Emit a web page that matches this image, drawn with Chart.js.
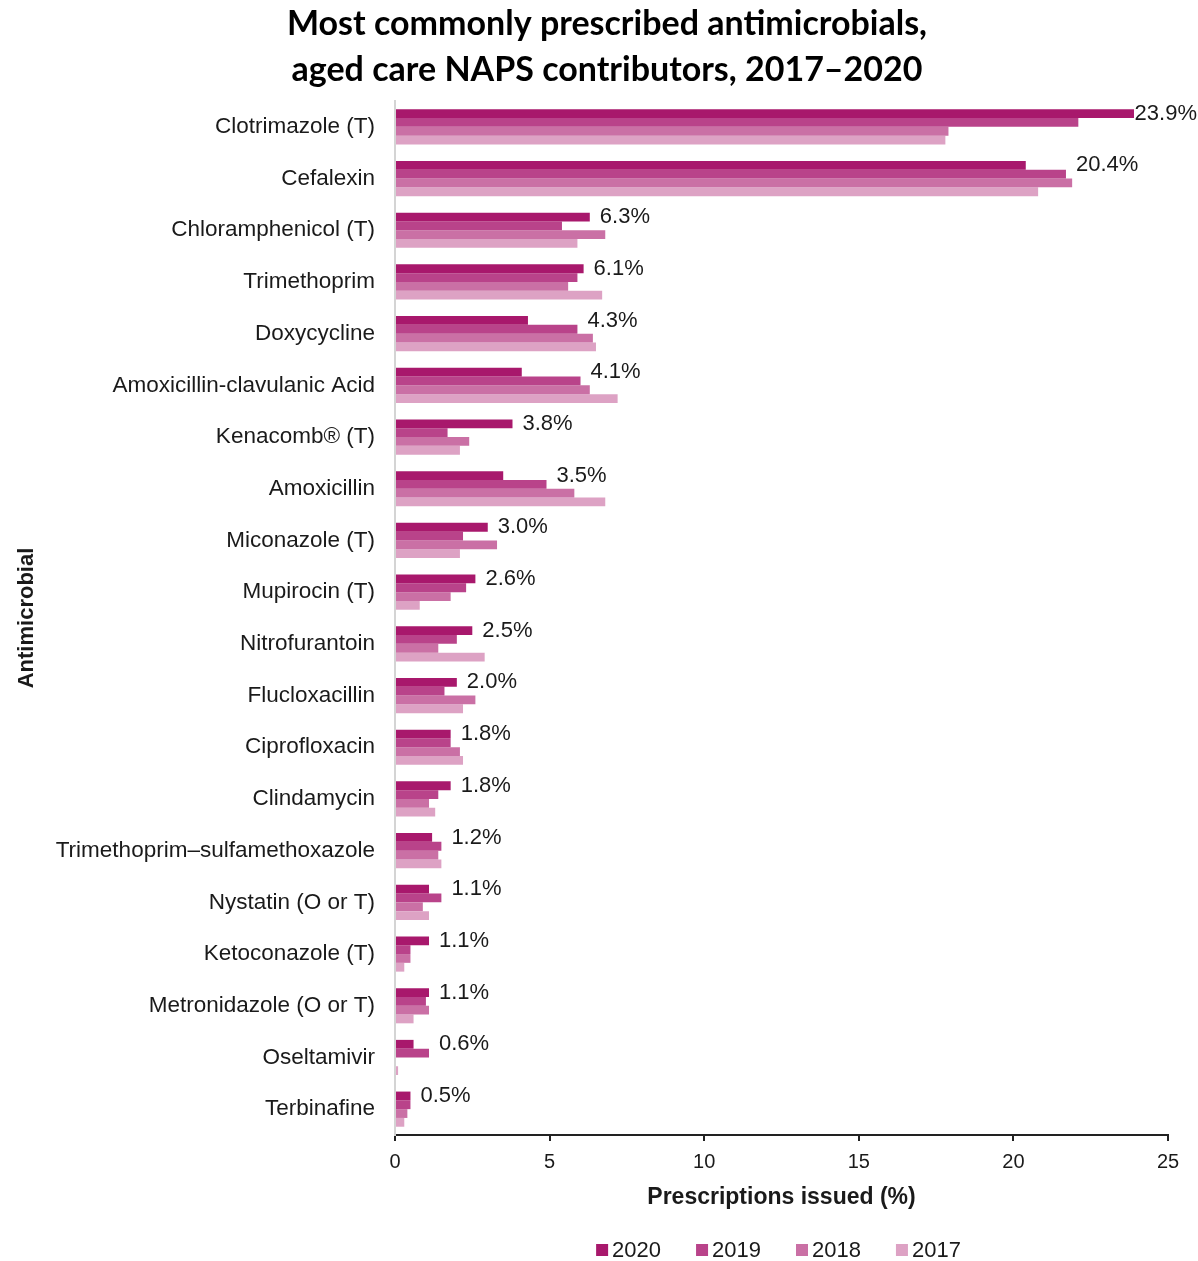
<!DOCTYPE html>
<html>
<head>
<meta charset="utf-8">
<script src="https://cdn.jsdelivr.net/npm/chart.js@4.4.1/dist/chart.umd.min.js"></script>
<style>
  html, body { margin: 0; padding: 0; background: #fff; }
  #wrap { width: 1198px; height: 1261px; position: relative; }
</style>
</head>
<body>
<div id="wrap"><canvas id="chart"></canvas></div>
<script>
const antimicrobials = [
  'Clotrimazole (T)', 'Cefalexin', 'Chloramphenicol (T)', 'Trimethoprim', 'Doxycycline',
  'Amoxicillin-clavulanic Acid', 'Kenacomb® (T)', 'Amoxicillin', 'Miconazole (T)', 'Mupirocin (T)',
  'Nitrofurantoin', 'Flucloxacillin', 'Ciprofloxacin', 'Clindamycin', 'Trimethoprim–sulfamethoxazole',
  'Nystatin (O or T)', 'Ketoconazole (T)', 'Metronidazole (O or T)', 'Oseltamivir', 'Terbinafine',
];
const years = ['2020', '2019', '2018', '2017'];
const values2020 = [23.9, 20.4, 6.3, 6.1, 4.3, 4.1, 3.8, 3.5, 3.0, 2.6, 2.5, 2.0, 1.8, 1.8, 1.2, 1.1, 1.1, 1.1, 0.6, 0.5];
const values2019 = [22.1, 21.7, 5.4, 5.9, 5.9, 6.0, 1.7, 4.9, 2.2, 2.3, 2.0, 1.6, 1.8, 1.4, 1.5, 1.5, 0.5, 1.0, 1.1, 0.5];
const values2018 = [17.9, 21.9, 6.8, 5.6, 6.4, 6.3, 2.4, 5.8, 3.3, 1.8, 1.4, 2.6, 2.1, 1.1, 1.4, 0.9, 0.5, 1.1, 0.0, 0.4];
const values2017 = [17.8, 20.8, 5.9, 6.7, 6.5, 7.2, 2.1, 6.8, 2.1, 0.8, 2.9, 2.2, 2.2, 1.3, 1.5, 1.1, 0.3, 0.6, 0.1, 0.3];
const xTicks = [0, 5, 10, 15, 20, 25];
const titleLines = ['Most commonly prescribed antimicrobials,', 'aged care NAPS contributors, 2017–2020'];

const yearColours = ['#a8186c', '#b9438a', '#ca70a5', '#dda2c4'];
const textColour = '#1a1a1a';
const baseFont = "'Liberation Sans', Arial, sans-serif";

// two-line heading, drawn a little right of centre like the original
const headingPlugin = {
  id: 'heading',
  afterDraw(chart) {
    const ctx = chart.ctx;
    ctx.save();
    ctx.fillStyle = '#000';
    ctx.font = "bold 34px Lato, 'Open Sans', sans-serif";
    ctx.textAlign = 'center';
    ctx.textBaseline = 'middle';
    titleLines.forEach((line, i) => {
      ctx.fillText(line, 607, 24 + i * 46, 662);
    });
    ctx.restore();
  },
};

// percentage label for 2020, just past the longer of the 2020/2019 bars
const valueLabelPlugin = {
  id: 'valueLabels',
  afterDatasetsDraw(chart) {
    const ctx = chart.ctx;
    const bars2020 = chart.getDatasetMeta(0).data;
    const bars2019 = chart.getDatasetMeta(1).data;
    ctx.save();
    ctx.font = `22px ${baseFont}`;
    ctx.fillStyle = textColour;
    ctx.textAlign = 'left';
    ctx.textBaseline = 'middle';
    values2020.forEach((v, i) => {
      const text = v.toFixed(1) + '%';
      const w = ctx.measureText(text).width;
      let x = Math.max(bars2020[i].x, bars2019[i].x) + 10;
      x = Math.min(x, chart.width - w - 1);
      ctx.fillText(text, x, bars2020[i].y);
    });
    ctx.restore();
  },
};

// small square-box legend under the axis title
const legendPlugin = {
  id: 'squareLegend',
  afterDraw(chart) {
    const ctx = chart.ctx;
    const box = 12;
    const gap = 4;
    const spacing = 35;
    const y = 1250;
    ctx.save();
    ctx.font = `22px ${baseFont}`;
    ctx.textBaseline = 'middle';
    ctx.textAlign = 'left';
    const items = chart.data.datasets.map((ds) => ({
      label: ds.label,
      colour: ds.backgroundColor,
      w: box + gap + ctx.measureText(ds.label).width,
    }));
    const total = items.reduce((s, it) => s + it.w, 0) + spacing * (items.length - 1);
    const area = chart.chartArea;
    let x = (area.left + area.right) / 2 - 3 - total / 2;
    items.forEach((it) => {
      ctx.fillStyle = it.colour;
      ctx.fillRect(x, y - box / 2, box, box);
      ctx.fillStyle = textColour;
      ctx.fillText(it.label, x + box + gap, y + 1);
      x += it.w + spacing;
    });
    ctx.restore();
  },
};

const seriesValues = [values2020, values2019, values2018, values2017];

new Chart(document.getElementById('chart'), {
  type: 'bar',
  data: {
    labels: antimicrobials,
    datasets: years.map((year, i) => ({
      label: year,
      data: seriesValues[i],
      backgroundColor: yearColours[i],
      borderWidth: 0,
      categoryPercentage: 0.68,
      barPercentage: 1.0,
    })),
  },
  options: {
    indexAxis: 'y',
    responsive: true,
    maintainAspectRatio: false,
    animation: false,
    layout: {
      padding: { top: 101, right: 30, bottom: 46, left: 0 },
    },
    scales: {
      x: {
        type: 'linear',
        min: 0,
        max: 25,
        afterBuildTicks: (scale) => {
          scale.ticks = xTicks.map((v) => ({ value: v }));
        },
        afterFit: (scale) => {
          scale.height = 80;
        },
        grid: {
          display: true,
          drawOnChartArea: false,
          drawTicks: true,
          tickLength: 6,
          color: '#222',
          lineWidth: 2,
        },
        border: { display: true, color: '#222', width: 2 },
        ticks: {
          padding: 9,
          color: textColour,
          font: { family: baseFont, size: 20 },
        },
        title: {
          display: true,
          text: 'Prescriptions issued (%)',
          color: textColour,
          font: { family: baseFont, size: 23, weight: 'bold' },
          padding: { top: 0, bottom: 4 },
        },
      },
      y: {
        afterFit: (scale) => {
          scale.width = 395;
        },
        grid: { display: false },
        border: { display: true, color: '#d4d4d4', width: 2 },
        ticks: {
          padding: 12,
          color: textColour,
          font: { family: baseFont, size: 22.5 },
        },
        title: {
          display: true,
          text: 'Antimicrobial',
          color: textColour,
          font: { family: baseFont, size: 22, weight: 'bold' },
          padding: { top: 14, bottom: 0 },
        },
      },
    },
    plugins: {
      legend: { display: false },
      title: { display: false },
      tooltip: { enabled: false },
    },
  },
  plugins: [headingPlugin, valueLabelPlugin, legendPlugin],
});
</script>
</body>
</html>
